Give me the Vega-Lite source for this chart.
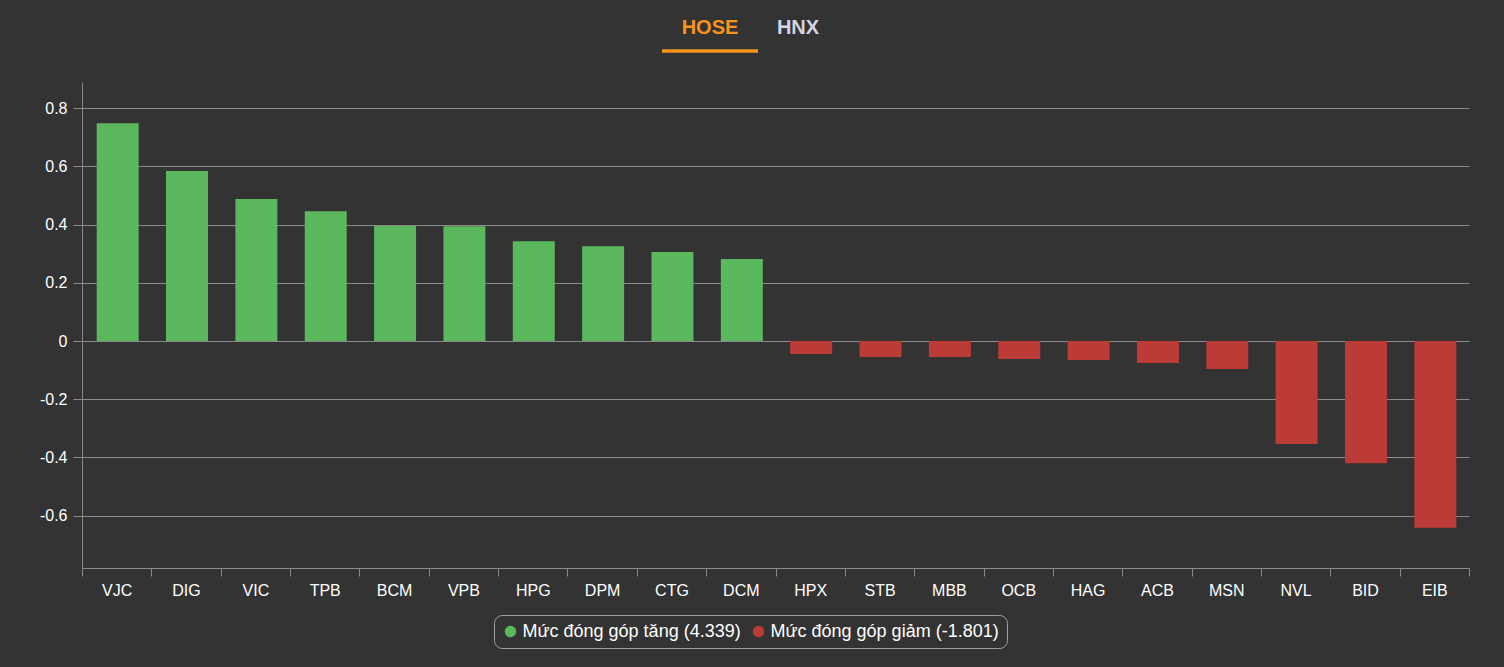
{
  "$schema": "https://vega.github.io/schema/vega-lite/v6.json",
  "background": "#333333",
  "padding": {"left": 39, "top": 0, "right": 35, "bottom": 19},
  "bounds": "flush",
  "spacing": 26,
  "resolve": {"scale": {"color": "independent", "x": "independent"}, "legend": {"color": "independent"}},
  "config": {
    "view": {"stroke": null},
    "font": "Liberation Sans",
    "tick": {"bandSize": 1}
  },
  "vconcat": [
    {
      "width": 1387,
      "height": 56,
      "data": {"values": [{"tab": "HOSE", "active": "yes"}, {"tab": "HNX", "active": "no"}]},
      "encoding": {
        "x": {"field": "tab", "type": "nominal", "sort": null, "axis": null,
              "scale": {"paddingInner": 0, "paddingOuter": 0, "range": [580, 772]}}
      },
      "layer": [
        {
          "transform": [{"filter": "datum.active == 'yes'"}],
          "mark": {"type": "text", "fontSize": 20, "fontWeight": "bold", "font": "Liberation Sans", "baseline": "middle", "color": "#f7941d"},
          "encoding": {"text": {"field": "tab"}}
        },
        {
          "transform": [{"filter": "datum.active == 'no'"}],
          "mark": {"type": "text", "fontSize": 20, "fontWeight": "bold", "font": "Liberation Sans", "baseline": "middle", "color": "#d4d4e2", "dx": -8},
          "encoding": {"text": {"field": "tab"}}
        },
        {
          "transform": [{"filter": "datum.active == 'yes'"}],
          "mark": {"type": "tick", "orient": "horizontal", "thickness": 3.5, "yOffset": 23, "color": "#f7941d", "opacity": 1},
          "encoding": {}
        }
      ]
    },
    {
      "width": 1387,
      "height": 486,
      "data": {"values": [
        {"code": "VJC", "value": 0.748, "group": "Mức đóng góp tăng (4.339)"},
        {"code": "DIG", "value": 0.584, "group": "Mức đóng góp tăng (4.339)"},
        {"code": "VIC", "value": 0.488, "group": "Mức đóng góp tăng (4.339)"},
        {"code": "TPB", "value": 0.446, "group": "Mức đóng góp tăng (4.339)"},
        {"code": "BCM", "value": 0.395, "group": "Mức đóng góp tăng (4.339)"},
        {"code": "VPB", "value": 0.394, "group": "Mức đóng góp tăng (4.339)"},
        {"code": "HPG", "value": 0.343, "group": "Mức đóng góp tăng (4.339)"},
        {"code": "DPM", "value": 0.326, "group": "Mức đóng góp tăng (4.339)"},
        {"code": "CTG", "value": 0.306, "group": "Mức đóng góp tăng (4.339)"},
        {"code": "DCM", "value": 0.282, "group": "Mức đóng góp tăng (4.339)"},
        {"code": "HPX", "value": -0.045, "group": "Mức đóng góp giảm (-1.801)"},
        {"code": "STB", "value": -0.055, "group": "Mức đóng góp giảm (-1.801)"},
        {"code": "MBB", "value": -0.055, "group": "Mức đóng góp giảm (-1.801)"},
        {"code": "OCB", "value": -0.062, "group": "Mức đóng góp giảm (-1.801)"},
        {"code": "HAG", "value": -0.065, "group": "Mức đóng góp giảm (-1.801)"},
        {"code": "ACB", "value": -0.076, "group": "Mức đóng góp giảm (-1.801)"},
        {"code": "MSN", "value": -0.096, "group": "Mức đóng góp giảm (-1.801)"},
        {"code": "NVL", "value": -0.354, "group": "Mức đóng góp giảm (-1.801)"},
        {"code": "BID", "value": -0.42, "group": "Mức đóng góp giảm (-1.801)"},
        {"code": "EIB", "value": -0.642, "group": "Mức đóng góp giảm (-1.801)"}
      ]},
      "mark": {"type": "bar", "width": {"band": 0.605}, "xOffset": 1},
      "encoding": {
        "x": {
          "field": "code", "type": "nominal", "sort": null,
          "scale": {"paddingInner": 0, "paddingOuter": 0},
          "axis": {
            "title": null, "labelAngle": 0, "tickBand": "extent", "tickSize": 8,
            "labelPadding": 6, "labelFontSize": 16, "labelColor": "#ffffff",
            "labelFont": "Liberation Sans", "domainColor": "#8a8a8a", "tickColor": "#8a8a8a", "grid": false
          }
        },
        "y": {
          "field": "value", "type": "quantitative",
          "scale": {"domain": [-0.78, 0.89], "nice": false, "zero": false},
          "axis": {
            "title": null,
            "values": [-0.6, -0.4, -0.2, 0, 0.2, 0.4, 0.6, 0.8],
            "labelExpr": "datum.value == 0 ? '0' : (datum.value < 0 ? '-' : '') + format(abs(datum.value), '.1f')",
            "grid": true, "gridColor": "#8a8a8a", "gridWidth": 1,
            "tickSize": 9, "labelPadding": 6, "labelFontSize": 16, "labelColor": "#ffffff",
            "labelFont": "Liberation Sans", "domainColor": "#8a8a8a", "tickColor": "#8a8a8a"
          }
        },
        "color": {
          "field": "group", "type": "nominal",
          "scale": {"domain": ["Mức đóng góp tăng (4.339)", "Mức đóng góp giảm (-1.801)"], "range": ["#5cb85c", "#bd3b37"]},
          "legend": {
            "title": null, "orient": "none", "legendX": 412, "legendY": 533,
            "direction": "horizontal", "symbolType": "circle", "symbolSize": 130,
            "symbolStrokeWidth": 0, "symbolOpacity": 1, "labelFontSize": 18, "labelColor": "#ffffff", "labelFont": "Liberation Sans",
            "labelLimit": 0, "strokeColor": "#a0a0a0", "cornerRadius": 8, "padding": 7.5, "columnPadding": 8, "labelOffset": 3
          }
        }
      }
    }
  ]
}
